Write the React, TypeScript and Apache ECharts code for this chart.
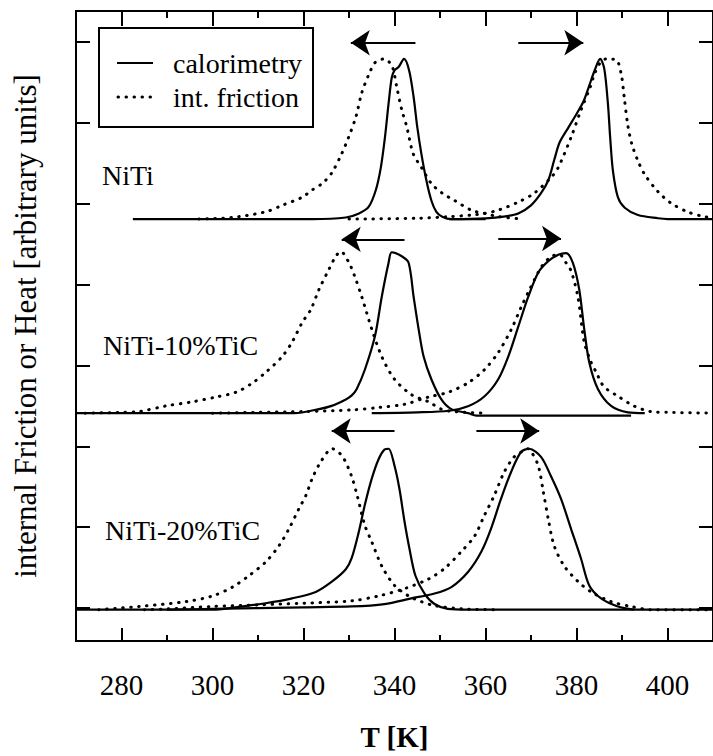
import React, { useEffect, useRef } from "react";
import * as echarts from "echarts";

// ---- tick labels / axis values ----
const X_MAJOR = [280, 300, 320, 340, 360, 380, 400];
const X_MINOR = [290, 310, 330, 350, 370, 390];
const Y_TICKS = [0, 1, 2, 3, 4, 5, 6, 7];

// ---- sample labels ----
const SAMPLES = ["NiTi", "NiTi-10%TiC", "NiTi-20%TiC"];
const OFFSETS = [4.81, 2.41, -0.02];

// ---- NiTi ----
const NITI_CAL_COOL: [number, number][] = [[282.5,0],[321.9,0],[329.3,0.02],[332.2,0.07],[334.3,0.15],[335.9,0.36],[337.0,0.64],[337.9,1.01],[338.7,1.43],[339.4,1.75],[340.0,1.84],[340.9,1.88],[342.1,1.98],[343.2,1.84],[344.2,1.51],[345.0,1.14],[345.9,0.81],[347.0,0.48],[348.1,0.23],[349.2,0.09],[350.5,0.03],[352.5,0],[360,0]];
const NITI_CAL_HEAT: [number, number][] = [[352,0],[360,0.01],[364,0.03],[367.2,0.07],[370,0.17],[372.2,0.32],[373.8,0.48],[375.1,0.73],[376.3,0.95],[378.3,1.14],[380,1.3],[381.5,1.45],[382.8,1.65],[384,1.84],[385.2,1.98],[386.1,1.86],[386.9,1.43],[387.4,1.01],[388,0.6],[389.1,0.27],[390.6,0.14],[393.5,0.05],[397.9,0.01],[400,0],[410,0]];
const NITI_IF_COOL: [number, number][] = [[297,0],[304.3,0.02],[311.7,0.09],[315.3,0.17],[319.7,0.27],[321.9,0.36],[324.1,0.44],[326.2,0.57],[328.4,0.81],[329.9,1.01],[331.5,1.26],[332.8,1.56],[334.3,1.78],[335.8,1.94],[337.6,1.98],[339.4,1.9],[340.5,1.63],[341.6,1.35],[342.7,1.14],[344.1,0.81],[345.9,0.64],[348.1,0.44],[350.5,0.32],[353.2,0.23],[356.9,0.11],[359.8,0.07],[363,0.03],[368,0]];
const NITI_IF_HEAT: [number, number][] = [[330,0],[345,0.01],[352,0.03],[357,0.05],[359.8,0.07],[362.8,0.11],[367.2,0.21],[370.7,0.32],[374.5,0.52],[376,0.64],[378.8,1.01],[381,1.35],[383,1.63],[384,1.8],[385.3,1.94],[386.5,1.98],[388.7,1.97],[389.8,1.8],[390.5,1.5],[391.3,1.15],[392.2,0.92],[393.5,0.72],[395,0.55],[397.9,0.34],[400.7,0.2],[404.4,0.09],[408,0.03],[410,0.02]];

// ---- NiTi-10%TiC ----
const TIC10_CAL_COOL: [number, number][] = [[270,0],[318,0],[323.4,0.05],[326.2,0.09],[329.3,0.17],[330.6,0.22],[331.7,0.3],[333.5,0.54],[335.7,0.95],[337.2,1.44],[338.7,1.86],[339.4,1.99],[341.6,1.94],[343.1,1.86],[344.2,1.44],[345.3,1.04],[346.4,0.7],[348.1,0.42],[350.3,0.17],[352.5,0.05],[356.2,0],[358,-0.03],[392,-0.03]];
const TIC10_CAL_HEAT: [number, number][] = [[335,0],[345,0.01],[352,0.03],[356.3,0.09],[359.8,0.21],[362.8,0.42],[365.0,0.7],[367.2,1.07],[369.4,1.44],[371.6,1.74],[373.8,1.88],[376.0,1.96],[377.7,1.98],[379.2,1.86],[380.6,1.53],[381.7,1.04],[382.8,0.63],[384.7,0.3],[387.6,0.09],[391.3,0.01],[395,0]];
const TIC10_IF_COOL: [number, number][] = [[272,0],[280,0.01],[283.9,0.02],[289.8,0.09],[295.5,0.14],[300.8,0.2],[305.2,0.26],[308.7,0.37],[311.8,0.51],[315.3,0.7],[317.5,0.88],[319.7,1.12],[321.6,1.28],[323.4,1.53],[325.6,1.78],[327.1,1.94],[328.2,2.0],[330.0,1.86],[331.2,1.7],[332.8,1.44],[335.0,1.04],[337.2,0.7],[340.0,0.42],[343.7,0.23],[347.5,0.14],[350.3,0.05],[353,0.02],[360,0]];
const TIC10_IF_HEAT: [number, number][] = [[300,0],[310,0.01],[320,0.02],[330.6,0.04],[336.5,0.07],[342.2,0.11],[347.5,0.2],[351.9,0.26],[356.3,0.38],[359.8,0.54],[362.8,0.75],[365.7,1.04],[367.9,1.32],[369.7,1.53],[372.3,1.81],[374.5,1.94],[376.3,1.96],[377.7,1.86],[378.8,1.76],[380.3,1.44],[381.7,0.88],[383.2,0.63],[384.3,0.51],[386.0,0.33],[389.1,0.21],[392.6,0.09],[396.3,0.02],[400,0.01],[410,0]];

// ---- NiTi-20%TiC ----
const TIC20_CAL_COOL: [number, number][] = [[270,0],[300,0],[305,0.03],[311.7,0.08],[317.5,0.14],[322.7,0.22],[326.3,0.35],[329.3,0.5],[330.6,0.64],[332.1,0.95],[333.5,1.3],[335.0,1.62],[336.5,1.86],[337.8,1.98],[338.7,1.99],[340.0,1.78],[341.1,1.49],[342.2,1.09],[343.3,0.75],[344.6,0.42],[346.6,0.2],[348.8,0.07],[351.7,0.01],[356,0],[410,0]];
const TIC20_CAL_HEAT: [number, number][] = [[290,0],[300,0.01],[320,0.03],[330.6,0.04],[337.8,0.07],[343.7,0.14],[348.8,0.2],[352.5,0.28],[356.2,0.47],[359.1,0.72],[361.2,1.0],[363.4,1.37],[365.6,1.7],[367.8,1.95],[369.6,1.99],[372.2,1.89],[374.4,1.65],[376.6,1.37],[378.8,1.0],[381.0,0.63],[382.8,0.3],[385.4,0.14],[389.1,0.04],[392.6,0]];
const TIC20_IF_COOL: [number, number][] = [[275,0],[283.9,0.04],[294.2,0.1],[300,0.17],[304.4,0.28],[308,0.42],[311.7,0.59],[314.6,0.79],[316.8,1.0],[319,1.25],[320.5,1.41],[321.9,1.62],[323.8,1.83],[326.3,1.99],[328.5,1.9],[330.5,1.66],[331.8,1.41],[333.5,1.04],[335.0,0.84],[337.2,0.54],[340.0,0.3],[343.1,0.17],[345.9,0.1],[348.8,0.05],[355,0.01],[362,0]];
const TIC20_IF_HEAT: [number, number][] = [[285,0],[290,0.01],[300,0.04],[310,0.06],[320,0.08],[330.6,0.11],[336.5,0.17],[342.2,0.26],[347.5,0.38],[351.0,0.51],[354.7,0.72],[357.6,0.91],[359.7,1.16],[361.9,1.41],[364.1,1.7],[366.3,1.89],[368.5,1.97],[369.3,1.99],[370.0,1.96],[371.6,1.78],[372.7,1.46],[373.8,1.12],[375.1,0.79],[377.3,0.54],[380.3,0.35],[383.2,0.22],[387.6,0.1],[392.0,0.04],[396.3,0],[410,0]];

// arrows: [from T, to T, y]
const ARROWS: [number, number, number][] = [
  [344.6, 330.4, 6.99], [367.2, 381.5, 6.99],
  [342.2, 328.4, 4.56], [362.8, 376.6, 4.57],
  [340.0, 326.2, 2.19], [358.0, 371.8, 2.19],
];

const CAL = [[NITI_CAL_COOL, NITI_CAL_HEAT], [TIC10_CAL_COOL, TIC10_CAL_HEAT], [TIC20_CAL_COOL, TIC20_CAL_HEAT]];
const IF = [[NITI_IF_COOL, NITI_IF_HEAT], [TIC10_IF_COOL, TIC10_IF_HEAT], [TIC20_IF_COOL, TIC20_IF_HEAT]];

const FONT = "'Liberation Serif', 'Times New Roman', serif";

export default function App() {
  const ref = useRef<HTMLDivElement>(null);
  useEffect(() => {
    if (!ref.current) return;
    const chart = echarts.init(ref.current, undefined, { renderer: "svg" });
    const series: any[] = [];
    CAL.forEach((pair, i) => pair.forEach((curve) => series.push({
      name: "calorimetry", type: "line", showSymbol: false, symbol: "none", smooth: 0.3, silent: true,
      data: curve.map(([t, v]) => [t, OFFSETS[i] + v]),
      lineStyle: { color: "#000", width: 2.2 }, z: 3,
    })));
    IF.forEach((pair, i) => pair.forEach((curve) => series.push({
      name: "int. friction", type: "line", showSymbol: false, symbol: "none", smooth: 0.3, silent: true,
      data: curve.map(([t, v]) => [t, OFFSETS[i] + v]),
      lineStyle: { color: "#000", width: 3, type: [0.5, 7.5], cap: "round" }, z: 2,
    })));
    series.push({
      type: "lines", coordinateSystem: "cartesian2d", silent: true,
      symbol: ["none", "arrow"], symbolSize: [17, 19],
      lineStyle: { color: "#000", width: 2, opacity: 1 },
      data: ARROWS.map(([a, b, y]) => ({ coords: [[a, y], [b, y]] })),
      z: 4,
    });

    const axisBase = {
      type: "value", min: 270, max: 410, splitLine: { show: false },
      axisLine: { show: true, onZero: false, lineStyle: { color: "#000", width: 2 } },
    };
    const yBase = {
      type: "value", min: -0.407, max: 7.383, splitLine: { show: false },
      axisLine: { show: true, onZero: false, lineStyle: { color: "#000", width: 2 } },
      axisTick: { inside: true, length: 14, customValues: Y_TICKS, lineStyle: { color: "#000", width: 2 } },
      axisLabel: { show: false },
    };

    chart.setOption({
      animation: false,
      backgroundColor: "#fff",
      textStyle: { fontFamily: FONT, color: "#000" },
      grid: { left: 76, right: -2, top: 11, bottom: 114, containLabel: false },
      xAxis: [
        {
          ...axisBase, position: "bottom",
          axisTick: { inside: true, length: 13, customValues: X_MAJOR, lineStyle: { color: "#000", width: 2 } },
          axisLabel: { customValues: X_MAJOR, fontSize: 29, fontFamily: FONT, color: "#000", margin: 29 },
          name: "T [K]", nameLocation: "middle", nameGap: 81,
          nameTextStyle: { fontSize: 29, fontWeight: "bold", fontFamily: FONT, color: "#000" },
        },
        {
          ...axisBase, position: "bottom",
          axisTick: { inside: true, length: 6, customValues: X_MINOR, lineStyle: { color: "#000", width: 2 } },
          axisLabel: { show: false },
        },
        {
          ...axisBase, position: "top",
          axisTick: { inside: true, length: 15, customValues: X_MAJOR, lineStyle: { color: "#000", width: 2 } },
          axisLabel: { show: false },
        },
        {
          ...axisBase, position: "top",
          axisTick: { inside: true, length: 7, customValues: X_MINOR, lineStyle: { color: "#000", width: 2 } },
          axisLabel: { show: false },
        },
      ],
      yAxis: [
        {
          ...yBase, position: "left",
          name: "internal Friction or Heat [arbitrary units]", nameLocation: "middle", nameGap: 35, nameRotate: 90,
          nameTextStyle: { fontSize: 31, fontFamily: FONT, color: "#000" },
        },
        { ...yBase, position: "right" },
      ],
      series,
      graphic: [
        { type: "rect", z: 100, shape: { x: 99, y: 28, width: 214, height: 99 }, style: { fill: "#fff", stroke: "#000", lineWidth: 2 } },
        { type: "line", z: 101, shape: { x1: 117, y1: 63, x2: 153, y2: 63 }, style: { stroke: "#000", lineWidth: 2.2 } },
        { type: "line", z: 101, shape: { x1: 118, y1: 97, x2: 153, y2: 97 }, style: { stroke: "#000", lineWidth: 3, lineDash: [0.5, 7.5], lineCap: "round" } },
        { type: "text", z: 101, x: 173, y: 63, style: { text: "calorimetry", font: `28px ${FONT}`, fill: "#000", textVerticalAlign: "middle" } },
        { type: "text", z: 101, x: 173, y: 97, style: { text: "int. friction", font: `28px ${FONT}`, fill: "#000", textVerticalAlign: "middle" } },
        { type: "text", z: 101, x: 102, y: 175, style: { text: SAMPLES[0], font: `28px ${FONT}`, fill: "#000", textVerticalAlign: "middle" } },
        { type: "text", z: 101, x: 103, y: 345, style: { text: SAMPLES[1], font: `28px ${FONT}`, fill: "#000", textVerticalAlign: "middle" } },
        { type: "text", z: 101, x: 105, y: 530, style: { text: SAMPLES[2], font: `28px ${FONT}`, fill: "#000", textVerticalAlign: "middle" } },
      ],
    });
    return () => chart.dispose();
  }, []);
  return <div ref={ref} style={{ position: "fixed", left: 0, top: 0, width: 713, height: 756, background: "#fff" }} />;
}
